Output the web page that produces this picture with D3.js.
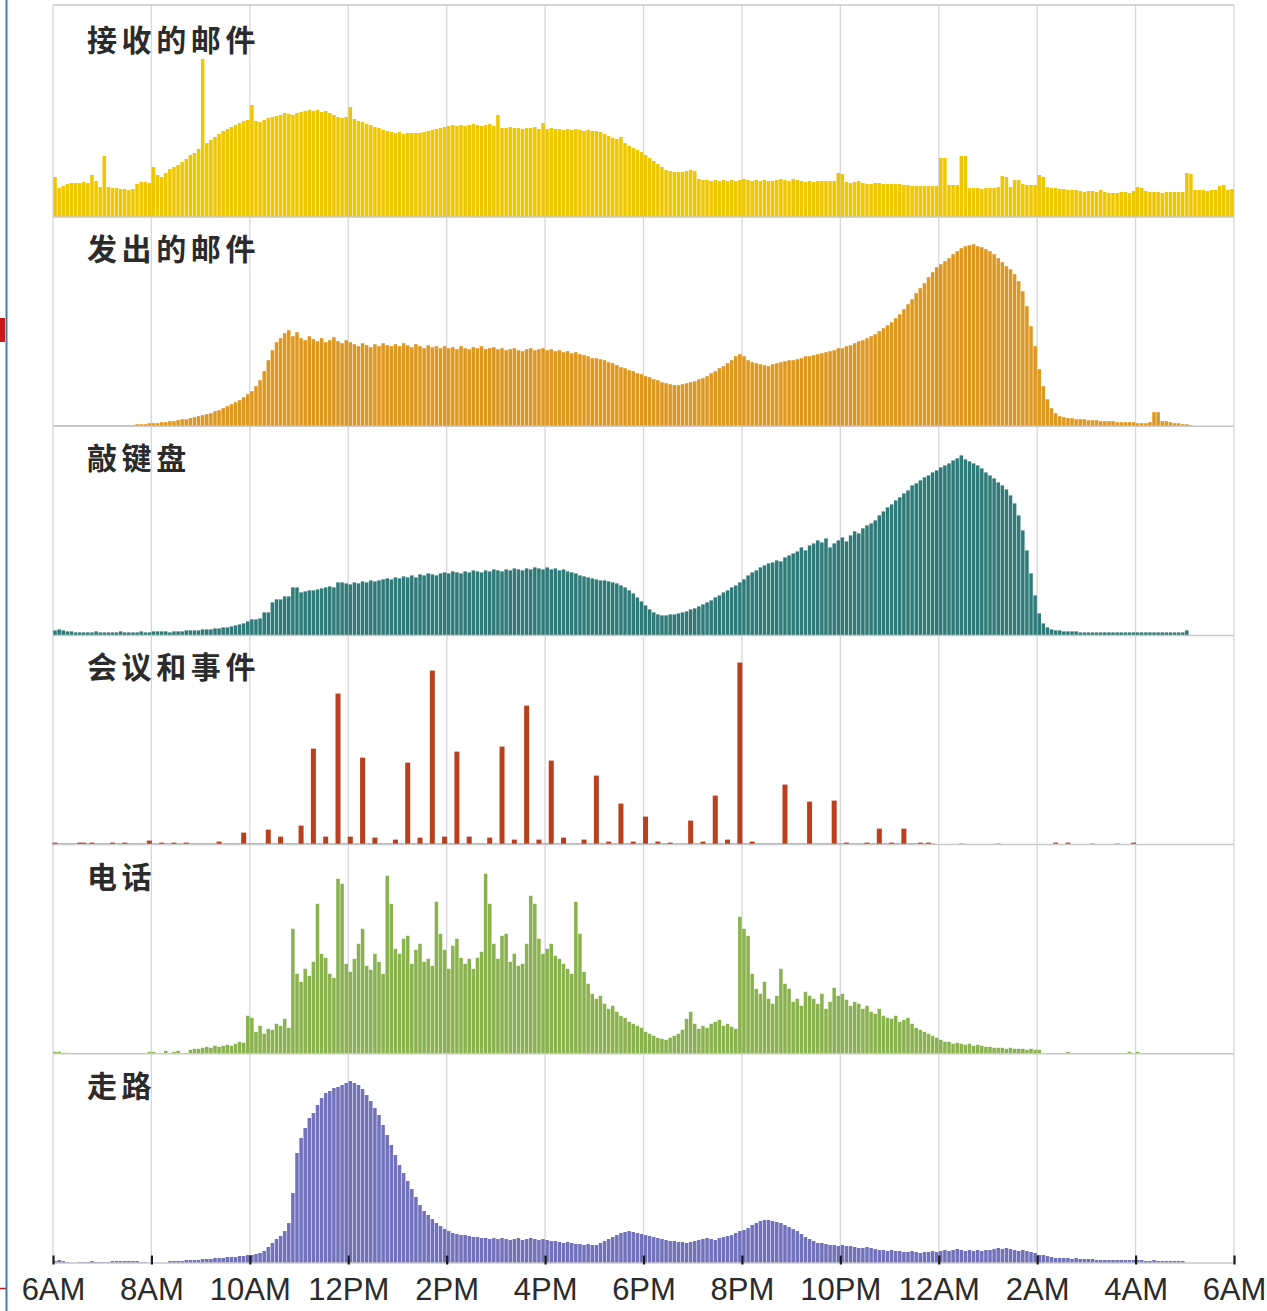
<!DOCTYPE html>
<html>
<head>
<meta charset="utf-8">
<script src="https://cdn.jsdelivr.net/npm/d3@7/dist/d3.min.js"></script>
<style>
    html, body { margin: 0; padding: 0; background: #fff; }
    svg { display: block; }
</style>
</head>
<body>
<svg id="chart" width="1267" height="1311"></svg>
<script>
// One value per 5 minutes, one row per hour, 6AM -> 6AM next day
const receivedMail = [
    [40, 29, 31, 33, 34, 34, 34, 35, 34, 42, 36, 30],
    [61, 30, 29, 29, 28, 28, 27, 28, 33, 35, 35, 34],
    [50, 42, 40, 44, 48, 50, 52, 55, 58, 62, 64, 68],
    [158, 74, 77, 80, 83, 86, 88, 90, 92, 94, 96, 97],
    [112, 96, 95, 97, 99, 100, 101, 102, 104, 103, 102, 104],
    [105, 106, 107, 106, 107, 105, 106, 104, 102, 100, 99, 100],
    [110, 98, 96, 95, 93, 92, 90, 89, 87, 86, 85, 84],
    [85, 83, 84, 84, 84, 84, 85, 86, 87, 88, 89, 90],
    [91, 92, 91, 92, 91, 92, 93, 92, 91, 92, 93, 91],
    [102, 89, 89, 90, 89, 89, 88, 89, 89, 90, 88, 94],
    [88, 89, 88, 88, 87, 88, 87, 88, 87, 86, 87, 86],
    [86, 85, 83, 81, 79, 78, 80, 74, 71, 69, 67, 65],
    [62, 59, 56, 53, 50, 47, 46, 45, 45, 45, 46, 47],
    [46, 38, 37, 37, 36, 37, 36, 37, 36, 37, 36, 37],
    [38, 37, 36, 37, 36, 37, 36, 36, 37, 38, 37, 36],
    [38, 37, 36, 35, 36, 35, 36, 36, 36, 36, 36, 44],
    [43, 35, 34, 35, 36, 34, 33, 33, 34, 34, 33, 33],
    [33, 33, 33, 32, 32, 31, 31, 31, 31, 31, 31, 31],
    [59, 59, 32, 32, 32, 61, 61, 29, 29, 29, 28, 29],
    [29, 29, 30, 41, 40, 30, 37, 37, 33, 32, 32, 32],
    [42, 40, 30, 29, 29, 28, 28, 27, 27, 27, 26, 25],
    [26, 26, 25, 27, 25, 24, 24, 24, 25, 25, 24, 26],
    [30, 29, 26, 25, 25, 25, 24, 25, 25, 25, 25, 25],
    [44, 43, 27, 27, 27, 26, 27, 27, 31, 32, 27, 28]
].flat();

const sentMail = [
    [1, 1, 1, 1, 1, 1, 1, 1, 1, 1, 1, 1],
    [1, 1, 1, 1, 1, 1, 1, 1, 2, 2, 2, 3],
    [3, 3, 4, 4, 5, 5, 6, 7, 7, 8, 9, 10],
    [11, 12, 13, 15, 16, 18, 20, 22, 24, 26, 29, 32],
    [35, 40, 46, 55, 66, 76, 84, 88, 93, 96, 90, 94],
    [88, 86, 90, 87, 85, 88, 84, 86, 89, 85, 83, 86],
    [84, 82, 80, 83, 81, 79, 82, 80, 83, 81, 80, 82],
    [80, 83, 81, 79, 82, 80, 78, 81, 79, 80, 78, 80],
    [78, 79, 77, 80, 78, 77, 79, 78, 80, 77, 78, 79],
    [77, 78, 76, 77, 78, 76, 75, 77, 78, 76, 77, 78],
    [76, 77, 75, 76, 74, 75, 73, 74, 72, 71, 70, 68],
    [68, 67, 66, 64, 63, 61, 59, 58, 56, 55, 53, 52],
    [50, 49, 47, 46, 44, 43, 42, 41, 41, 42, 43, 44],
    [45, 47, 48, 50, 53, 55, 58, 60, 63, 66, 70, 72],
    [70, 66, 64, 63, 62, 61, 60, 62, 63, 64, 65, 66],
    [66, 67, 68, 70, 70, 71, 72, 73, 74, 75, 76, 78],
    [78, 80, 81, 83, 85, 86, 88, 90, 92, 95, 98, 101],
    [104, 108, 112, 117, 122, 127, 133, 138, 143, 149, 154, 159],
    [162, 165, 168, 172, 175, 178, 180, 181, 182, 180, 179, 177],
    [175, 172, 168, 164, 160, 157, 152, 145, 135, 120, 100, 80],
    [57, 40, 27, 18, 13, 10, 9, 8, 8, 7, 7, 7],
    [6, 6, 6, 5, 5, 5, 5, 4, 4, 4, 4, 4],
    [3, 3, 3, 4, 14, 14, 5, 5, 4, 3, 3, 2],
    [2, 1, 0, 0, 0, 0, 0, 0, 0, 0, 0, 0]
].flat();

const typing = [
    [5, 6, 5, 4, 4, 3, 3, 3, 3, 3, 4, 3],
    [3, 3, 3, 3, 4, 3, 3, 3, 3, 4, 3, 3],
    [4, 4, 4, 4, 3, 4, 4, 4, 5, 5, 5, 5],
    [6, 6, 6, 7, 7, 8, 8, 9, 10, 11, 12, 14],
    [16, 16, 17, 23, 23, 33, 36, 36, 39, 39, 48, 48],
    [43, 44, 45, 45, 46, 47, 48, 49, 48, 53, 53, 52],
    [51, 53, 52, 54, 53, 55, 54, 55, 56, 57, 56, 58],
    [57, 59, 58, 60, 58, 61, 60, 62, 61, 60, 62, 63],
    [62, 64, 63, 62, 64, 63, 65, 64, 63, 65, 64, 66],
    [65, 64, 66, 65, 67, 66, 65, 67, 66, 68, 67, 66],
    [68, 66, 67, 65, 66, 64, 63, 62, 60, 59, 58, 57],
    [56, 55, 55, 54, 53, 52, 50, 48, 45, 42, 38, 34],
    [30, 26, 23, 21, 20, 20, 21, 21, 22, 23, 24, 26],
    [27, 29, 31, 33, 35, 38, 40, 43, 45, 48, 50, 53],
    [56, 60, 63, 65, 68, 70, 72, 73, 75, 74, 78, 80],
    [82, 84, 88, 85, 90, 92, 95, 93, 97, 88, 92, 95],
    [98, 94, 100, 104, 102, 107, 110, 112, 115, 120, 124, 128],
    [131, 135, 138, 142, 145, 150, 152, 155, 158, 160, 163, 165],
    [168, 170, 172, 175, 177, 180, 176, 174, 172, 170, 167, 163],
    [160, 157, 153, 150, 146, 140, 132, 120, 105, 85, 62, 40],
    [22, 12, 8, 6, 5, 5, 4, 4, 4, 4, 3, 3],
    [3, 3, 3, 3, 3, 3, 3, 3, 3, 3, 3, 3],
    [3, 3, 3, 3, 3, 3, 3, 3, 3, 3, 3, 3],
    [5, 0, 0, 0, 0, 0, 0, 0, 0, 0, 0, 0]
].flat();

const meetings = [
    [2, 1, 1, 1, 1, 1, 2, 2, 1, 2, 1, 1],
    [1, 1, 2, 1, 1, 2, 1, 1, 1, 1, 1, 4],
    [1, 1, 2, 1, 1, 2, 1, 1, 2, 1, 1, 1],
    [1, 1, 1, 1, 3, 1, 1, 1, 1, 1, 12, 1],
    [1, 1, 1, 1, 15, 1, 1, 8, 1, 1, 1, 1],
    [19, 1, 1, 96, 1, 1, 8, 1, 1, 151, 1, 1],
    [8, 1, 1, 87, 1, 1, 7, 1, 1, 1, 1, 5],
    [1, 1, 82, 1, 1, 7, 1, 1, 174, 1, 1, 8],
    [1, 1, 93, 1, 1, 8, 1, 1, 1, 1, 7, 1],
    [1, 98, 1, 1, 5, 1, 1, 139, 1, 1, 5, 1],
    [1, 84, 1, 1, 7, 1, 1, 1, 1, 5, 1, 1],
    [69, 1, 1, 3, 1, 1, 41, 1, 1, 3, 1, 1],
    [28, 1, 1, 3, 1, 1, 2, 1, 1, 1, 1, 24],
    [1, 1, 3, 1, 1, 49, 1, 1, 5, 1, 1, 182],
    [1, 1, 3, 1, 1, 1, 1, 1, 1, 1, 60, 1],
    [1, 1, 1, 1, 43, 1, 1, 1, 1, 1, 44, 1],
    [1, 2, 1, 1, 1, 1, 2, 1, 1, 16, 1, 1],
    [2, 1, 1, 16, 1, 1, 1, 2, 1, 2, 1, 0],
    [0, 0, 0, 0, 0, 1, 0, 0, 0, 0, 0, 0],
    [0, 0, 1, 0, 0, 0, 0, 0, 0, 0, 0, 0],
    [0, 0, 0, 0, 2, 0, 0, 2, 0, 0, 0, 0],
    [0, 1, 0, 0, 0, 0, 0, 1, 0, 0, 0, 2],
    [0, 0, 0, 0, 0, 0, 0, 0, 0, 0, 0, 0],
    [0, 0, 0, 0, 0, 0, 0, 0, 0, 0, 0, 0]
].flat();

const phone = [
    [2, 2, 1, 1, 0, 0, 0, 0, 0, 0, 0, 0],
    [0, 0, 0, 0, 0, 0, 0, 0, 0, 0, 0, 2],
    [2, 0, 0, 3, 0, 2, 3, 0, 0, 4, 5, 5],
    [6, 7, 6, 8, 7, 8, 9, 8, 10, 12, 11, 38],
    [36, 22, 28, 20, 25, 24, 30, 28, 35, 26, 125, 80],
    [72, 85, 78, 92, 150, 100, 96, 80, 76, 175, 170, 90],
    [82, 95, 110, 125, 88, 84, 100, 92, 80, 178, 150, 105],
    [100, 115, 118, 90, 104, 110, 92, 95, 88, 152, 120, 104],
    [85, 108, 115, 96, 90, 95, 85, 96, 102, 180, 150, 110],
    [95, 118, 120, 92, 100, 88, 90, 110, 158, 150, 115, 100],
    [105, 110, 98, 95, 90, 85, 80, 152, 120, 82, 70, 60],
    [55, 58, 50, 45, 48, 42, 38, 36, 32, 30, 28, 26],
    [22, 20, 18, 16, 15, 14, 16, 18, 20, 24, 35, 42],
    [30, 25, 28, 26, 30, 32, 34, 28, 30, 27, 25, 137],
    [125, 118, 80, 65, 60, 72, 55, 50, 58, 85, 70, 65],
    [52, 55, 48, 62, 58, 55, 50, 60, 45, 52, 66, 58],
    [60, 54, 48, 52, 50, 45, 48, 42, 40, 45, 38, 36],
    [35, 38, 32, 34, 36, 30, 26, 24, 22, 20, 18, 16],
    [14, 12, 12, 10, 11, 10, 9, 10, 8, 9, 8, 7],
    [7, 6, 6, 6, 5, 6, 5, 5, 5, 4, 5, 4],
    [4, 0, 0, 0, 0, 0, 0, 2, 0, 0, 0, 0],
    [0, 0, 0, 0, 0, 0, 0, 0, 0, 0, 2, 0],
    [2, 0, 0, 0, 0, 0, 0, 0, 0, 0, 0, 0],
    [0, 0, 0, 0, 0, 0, 0, 0, 0, 0, 0, 0]
].flat();

const walking = [
    [2, 3, 2, 1, 0, 0, 1, 1, 1, 2, 1, 1],
    [1, 1, 2, 2, 2, 2, 2, 2, 2, 1, 1, 0],
    [0, 0, 0, 0, 2, 2, 2, 2, 3, 3, 3, 3],
    [4, 4, 4, 5, 5, 5, 6, 6, 6, 7, 7, 8],
    [8, 9, 10, 12, 16, 20, 24, 27, 32, 40, 70, 110],
    [125, 135, 145, 150, 158, 165, 170, 172, 175, 176, 178, 180],
    [182, 180, 178, 174, 168, 162, 155, 148, 138, 128, 118, 108],
    [98, 90, 82, 74, 66, 58, 52, 48, 44, 40, 37, 34],
    [32, 30, 29, 28, 28, 27, 26, 26, 25, 25, 24, 25],
    [24, 25, 24, 23, 24, 25, 23, 24, 25, 24, 23, 24],
    [23, 22, 22, 21, 20, 21, 20, 19, 19, 18, 19, 18],
    [18, 20, 22, 24, 26, 28, 30, 31, 32, 31, 30, 29],
    [28, 27, 26, 25, 24, 23, 22, 22, 21, 21, 20, 21],
    [22, 23, 24, 25, 24, 23, 25, 26, 27, 28, 30, 32],
    [33, 35, 38, 40, 42, 43, 43, 42, 41, 40, 38, 36],
    [34, 32, 29, 26, 24, 22, 20, 20, 19, 18, 18, 17],
    [18, 17, 17, 16, 15, 15, 16, 15, 14, 13, 13, 12],
    [13, 12, 12, 11, 11, 12, 11, 10, 11, 11, 12, 11],
    [12, 13, 12, 13, 14, 13, 12, 13, 12, 13, 12, 13],
    [13, 14, 15, 14, 15, 14, 13, 12, 13, 12, 11, 10],
    [8, 8, 7, 6, 5, 5, 5, 5, 4, 5, 4, 4],
    [4, 4, 3, 3, 3, 3, 3, 3, 3, 3, 3, 3],
    [3, 3, 2, 2, 3, 2, 2, 2, 2, 2, 2, 2],
    [0, 0, 0, 0, 0, 0, 0, 0, 0, 0, 0, 0]
].flat();

const panelNames = ['接收的邮件', '发出的邮件', '敲键盘', '会议和事件', '电话', '走路'];
const panelColors = ['#EFC700', '#DE981F', '#2F7B7A', '#BA3F1E', '#8AB24E', '#7272BC'];
const panelSeries = [receivedMail, sentMail, typing, meetings, phone, walking];
const tickHours = [0, 2, 4, 6, 8, 10, 12, 14, 16, 18, 20, 22, 24];
const tickLabels = ['6AM', '8AM', '10AM', '12PM', '2PM', '4PM', '6PM', '8PM', '10PM', '12AM', '2AM', '4AM', '6AM'];

(function () {

    // Constants
    const LEFT = 53;
    const RIGHT = 1234;
    const TOP = 7.8;
    const BOTTOM = 1263;
    const FRAME_TOP = 5;
    const VALUE_MAX = 209.2;
    const BINS_PER_HOUR = 12;
    const GRID_COLOR = '#d6d6de';
    const LINE_COLOR = '#c9c9cc';

    const svg = d3.select('#chart');

    // Scales
    const x = d3.scaleLinear().domain([0, 24]).range([LEFT, RIGHT]);
    const panelY = d3.scaleLinear().domain([0, panelNames.length]).range([TOP, BOTTOM]);
    const panelH = panelY(1) - panelY(0);
    const y = d3.scaleLinear().domain([0, VALUE_MAX]).range([panelH, 0]);

    // Screenshot edge marks
    svg.append('line')
        .attr('x1', 6.5).attr('x2', 6.5)
        .attr('y1', 0).attr('y2', 1311)
        .attr('stroke', '#3a7fb4')
        .attr('stroke-width', 2)
    ;
    svg.append('rect')
        .attr('x', 0).attr('y', 318)
        .attr('width', 5).attr('height', 24)
        .attr('fill', '#c8191b')
    ;
    svg.append('line')
        .attr('x1', 0).attr('x2', 6)
        .attr('y1', 1288.5).attr('y2', 1288.5)
        .attr('stroke', '#c8191b')
        .attr('stroke-width', 1.5)
    ;

    // Vertical grid
    svg.append('g')
        .attr('class', 'grid')
        .selectAll('line')
        .data(tickHours)
        .join('line')
        .attr('x1', (h) => x(h)).attr('x2', (h) => x(h))
        .attr('y1', FRAME_TOP).attr('y2', BOTTOM)
        .attr('stroke', GRID_COLOR)
        .attr('stroke-width', 1.3)
    ;

    // Top frame
    svg.append('line')
        .attr('x1', LEFT).attr('x2', RIGHT)
        .attr('y1', FRAME_TOP).attr('y2', FRAME_TOP)
        .attr('stroke', LINE_COLOR)
        .attr('stroke-width', 1.5)
    ;

    const step = x(1 / BINS_PER_HOUR) - x(0);

    // Panels
    const panels = svg.append('g')
        .attr('class', 'panels')
        .selectAll('g')
        .data(panelNames)
        .join('g')
        .attr('transform', (d, i) => `translate(0,${panelY(i)})`)
    ;

    panels.each(function (name, i) {
        const g = d3.select(this);
        const values = panelSeries[i];
        const isSparse = name === '会议和事件';
        const barW = isSparse ? 5 : step * 0.86;

        g.append('g')
            .attr('class', 'bars')
            .selectAll('rect')
            .data(values)
            .join('rect')
            .attr('x', (v, k) => x((k + 0.5) / BINS_PER_HOUR) - barW / 2)
            .attr('width', barW)
            .attr('y', (v) => y(v))
            .attr('height', (v) => y(0) - y(v))
            .attr('fill', panelColors[i])
        ;

        // Baseline
        g.append('line')
            .attr('x1', LEFT).attr('x2', RIGHT)
            .attr('y1', panelH).attr('y2', panelH)
            .attr('stroke', LINE_COLOR)
            .attr('stroke-width', 1.5)
        ;

        // Label
        g.append('text')
            .attr('x', 87)
            .attr('y', 43)
            .attr('fill', '#2b2b2b')
            .style('font-family', '"Noto Sans CJK SC", sans-serif')
            .style('font-size', '30px')
            .style('font-weight', '700')
            .style('letter-spacing', '4.6px')
            .text(name)
        ;
    });

    // Time axis
    const axis = d3.axisBottom(x)
        .tickValues(tickHours)
        .tickFormat((h, k) => tickLabels[k])
        .tickSize(-9)
        .tickPadding(13)
    ;
    const gAxis = svg.append('g')
        .attr('class', 'axis')
        .attr('transform', `translate(0,${BOTTOM + 1.5})`)
        .call(axis)
    ;
    gAxis.select('.domain').remove();
    gAxis.selectAll('.tick line')
        .attr('stroke', '#1a1a1a')
        .attr('stroke-width', 2.2)
    ;
    gAxis.selectAll('.tick text')
        .attr('fill', '#2b2b2b')
        .style('font-family', '"Liberation Sans", Arial, sans-serif')
        .style('font-size', '31px')
    ;

}());
</script>
</body>
</html>
